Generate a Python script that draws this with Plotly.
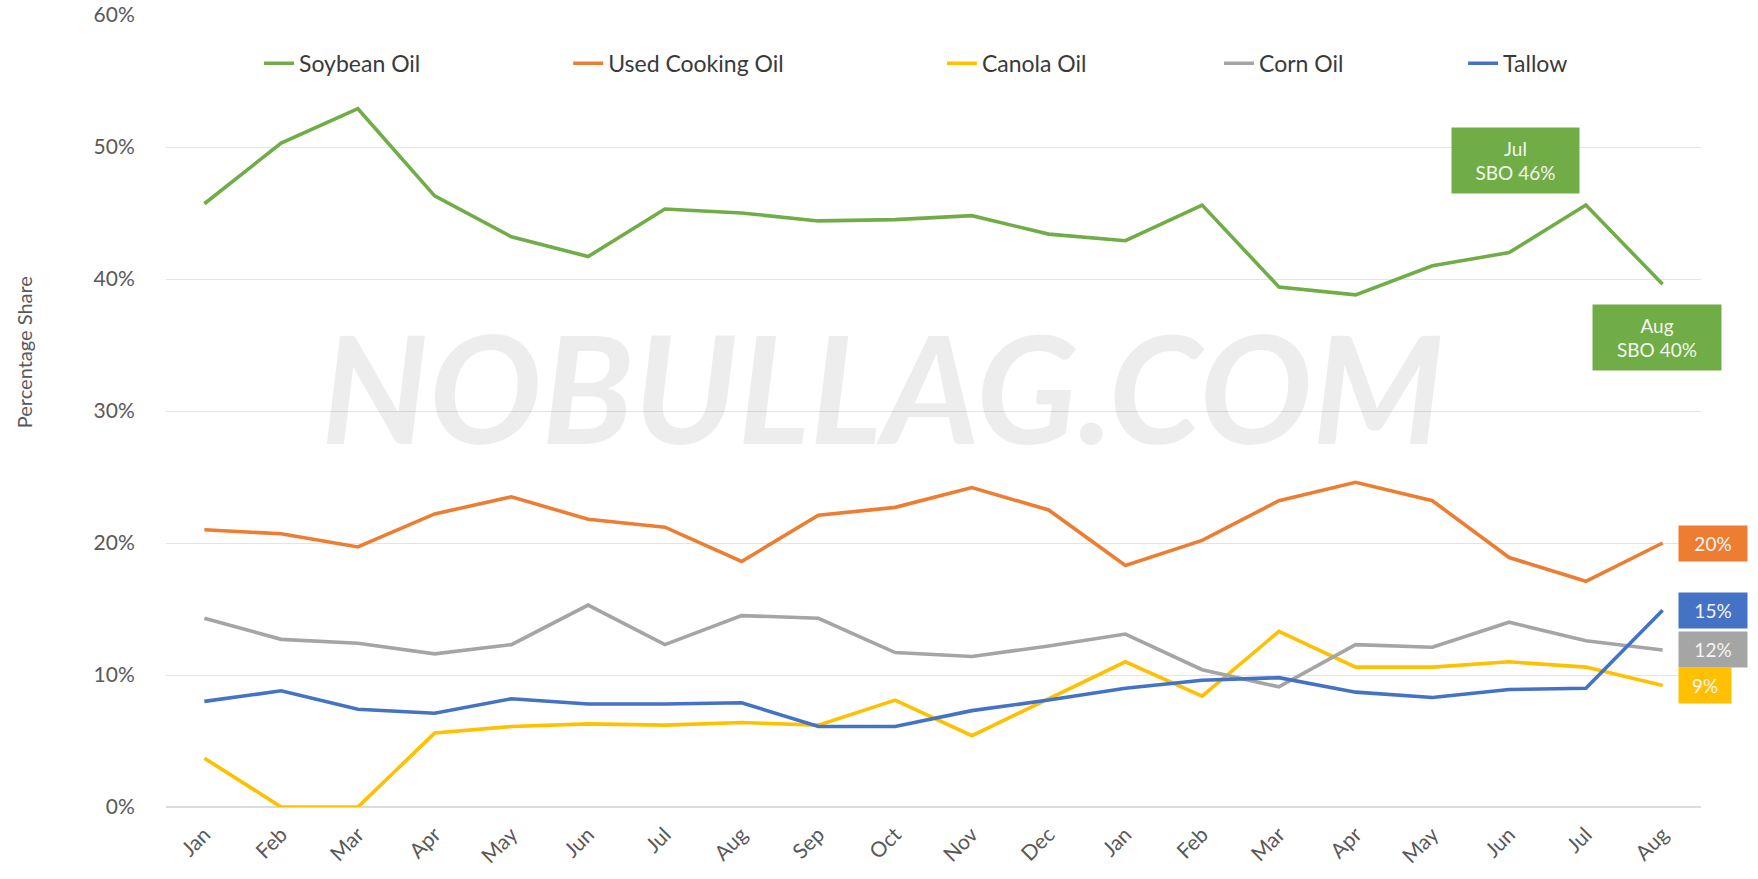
import plotly.graph_objects as go

# months on the x axis (two seasons, Jan .. Aug of the next year)
months = ["Jan", "Feb", "Mar", "Apr", "May", "Jun", "Jul", "Aug", "Sep", "Oct",
          "Nov", "Dec", "Jan", "Feb", "Mar", "Apr", "May", "Jun", "Jul", "Aug"]

# percentage share of each feedstock
soybean = [45.7, 50.3, 52.9, 46.3, 43.2, 41.7, 45.3, 45.0, 44.4, 44.5,
           44.8, 43.4, 42.9, 45.6, 39.4, 38.8, 41.0, 42.0, 45.6, 39.6]
used_cooking = [21.0, 20.7, 19.7, 22.2, 23.5, 21.8, 21.2, 18.6, 22.1, 22.7,
                24.2, 22.5, 18.3, 20.2, 23.2, 24.6, 23.2, 18.9, 17.1, 20.0]
canola = [3.7, 0.0, 0.0, 5.6, 6.1, 6.3, 6.2, 6.4, 6.2, 8.1,
          5.4, 8.2, 11.0, 8.4, 13.3, 10.6, 10.6, 11.0, 10.6, 9.2]
corn = [14.3, 12.7, 12.4, 11.6, 12.3, 15.3, 12.3, 14.5, 14.3, 11.7,
        11.4, 12.2, 13.1, 10.4, 9.1, 12.3, 12.1, 14.0, 12.6, 11.9]
tallow = [8.0, 8.8, 7.4, 7.1, 8.2, 7.8, 7.8, 7.9, 6.1, 6.1,
          7.3, 8.1, 9.0, 9.6, 9.8, 8.7, 8.3, 8.9, 9.0, 14.9]

names = ["Soybean Oil", "Used Cooking Oil", "Canola Oil", "Corn Oil", "Tallow"]
colors = ["#70AD47", "#ED7D31", "#FFC000", "#A5A5A5", "#4472C4"]
series = [soybean, used_cooking, canola, corn, tallow]

idx = list(range(len(months)))
FONT = "Lato, 'Open Sans', sans-serif"

fig = go.Figure()

# one legend per series so each entry sits where it does in the original
legend_x = [0.0606, 0.262, 0.5055, 0.686, 0.845]
for i, (name, col, vals) in enumerate(zip(names, colors, series)):
    leg = "legend" if i == 0 else "legend%d" % (i + 1)
    fig.add_trace(go.Scatter(x=idx, y=vals, mode="lines", name=name,
                             line=dict(color=col, width=3.6), legend=leg,
                             showlegend=True, hoverinfo="skip"))
    fig.update_layout({leg: dict(x=legend_x[i], y=0.939, xanchor="left", yanchor="middle",
                                 orientation="h", bgcolor="rgba(0,0,0,0)",
                                 font=dict(family=FONT, size=23, color="#3a3a3a"))})

annotations = []

# watermark
annotations.append(dict(text="NOBULLAG.COM", xref="paper", yref="paper", x=0.467, y=0.532,
                        showarrow=False,
                        font=dict(family=FONT, size=150, color="rgba(0,0,0,0.07)",
                                  weight="bold", style="italic")))

# y axis title
annotations.append(dict(text="Percentage Share", xref="paper", yref="paper", x=-0.092, y=0.574,
                        xanchor="center", yanchor="middle", showarrow=False, textangle=-90,
                        font=dict(family=FONT, size=20, color="#595959")))

# soybean callouts
annotations.append(dict(text="Jul<br>SBO %d%%" % round(soybean[18]), x=17.08, y=49.0,
                        showarrow=False, bgcolor="#70AD47", width=127, height=65,
                        borderpad=0, font=dict(family=FONT, size=19, color="#f2f7ee")))
annotations.append(dict(text="Aug<br>SBO %d%%" % round(soybean[19]), x=18.93, y=35.6,
                        showarrow=False, bgcolor="#70AD47", width=128, height=65,
                        borderpad=0, font=dict(family=FONT, size=19, color="#f2f7ee")))

# end-of-line value boxes
box_w = [68, 52, 68, 68]
for (vals, col), w in zip([(used_cooking, "#ED7D31"), (canola, "#FFC000"),
                           (corn, "#A5A5A5"), (tallow, "#4472C4")], box_w):
    annotations.append(dict(text="%d%%" % round(vals[-1]), xref="paper", x=0.985, xanchor="left",
                            y=vals[-1], showarrow=False, bgcolor=col, width=w, height=35,
                            borderpad=0, font=dict(family=FONT, size=19, color="#f4f4f4")))

fig.update_layout(
    width=1758, height=879,
    showlegend=True,
    margin=dict(l=166, r=57, t=15, b=72, autoexpand=False),
    paper_bgcolor="white", plot_bgcolor="white",
    annotations=annotations,
    xaxis=dict(tickvals=idx, ticktext=months, range=[-0.5, 19.5], showgrid=False,
               zeroline=False, showline=False, tickangle=-45, automargin=False,
               ticks="outside", ticklen=6, tickcolor="rgba(0,0,0,0)",
               tickfont=dict(family=FONT, size=21, color="#595959")),
    yaxis=dict(range=[0, 60], dtick=10, ticksuffix="%", gridcolor="#e4e4e4", gridwidth=1,
               zeroline=True, zerolinecolor="#dcdcdc", zerolinewidth=1.5, showline=False,
               automargin=False, ticklabeloverflow="allow",
               ticks="outside", ticklen=26, tickcolor="rgba(0,0,0,0)",
               tickfont=dict(family=FONT, size=21, color="#595959")),
)

# drop the default 8px page margin so the figure fills the window exactly
fig.write_html("out.html", config={"displayModeBar": False},
               post_script="document.body.style.margin='0';document.body.style.overflow='hidden';")
